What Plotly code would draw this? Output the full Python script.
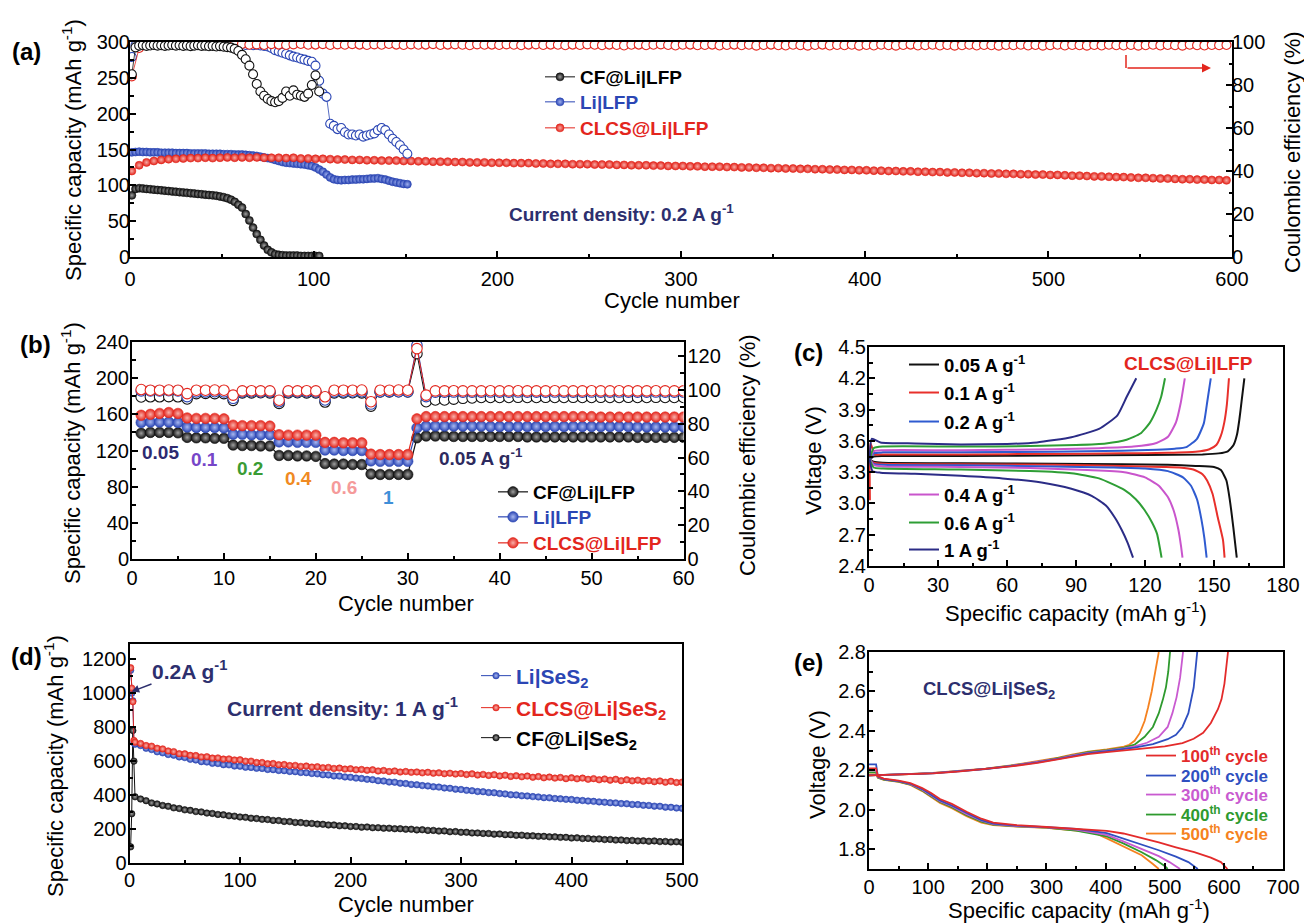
import plotly.graph_objects as go

# ---------------- DATA ----------------
# (a) long cycling, 0.2 A/g
cyc_a_red = list(range(1, 600, 4))
cyc_a_blue = list(range(1, 152, 2))
cyc_a_black = list(range(1, 104, 2))

a_red_cap = [120, 128, 132, 134, 135.5, 136.5, 137, 137.5, 138, 138,
             138.5, 138, 138.5, 139, 138.5, 139, 138.5, 139, 138.5, 138.5,
             138.5, 138, 138.5, 137.5, 137.5, 137, 137, 136.5, 136, 136,
             135.5, 135.5, 135, 135, 134.5, 134.5, 134.5, 134, 134, 133.5,
             133.5, 133, 133, 133, 132.5, 132.5, 132, 132, 132, 131.5,
             131.5, 131.5, 131, 131, 131, 130.5, 130.5, 130, 130, 130,
             129.5, 129.5, 129.5, 129, 129, 129, 128.5, 128.5, 128, 128,
             128, 127.5, 127.5, 127, 127, 127, 126.5, 126.5, 126, 126,
             126, 125.5, 125.5, 125, 125, 124.5, 124.5, 124, 124, 123.5,
             123.5, 123, 123, 122.5, 122.5, 122, 122, 121.5, 121.5, 121,
             121, 120.5, 120.5, 120, 120, 119.5, 119.5, 119, 119, 118.5,
             118.5, 118, 118, 117.5, 117.5, 117, 117, 116.5, 116.5, 116,
             116, 115.5, 115.5, 115, 115, 114.5, 114.5, 114, 113.5, 113.5,
             113, 112.5, 112.5, 112, 111.5, 111.5, 111, 110.5, 110.5, 110,
             109.5, 109.5, 109, 108.5, 108.5, 108, 108, 107.5, 107.5, 107]
a_red_ce = [84.0, 97.2, 98.6, 98.9, 98.7, 99.0, 98.8, 98.6, 99.1, 98.9,
            98.7, 98.9, 99.0, 98.6, 98.8, 99.1, 98.7, 98.9, 98.6, 99.0,
            98.8, 98.6, 98.9, 99.1, 98.7, 98.8, 99.0, 98.6, 98.9, 98.7,
            99.0, 98.8, 98.6, 98.9, 98.7, 99.1, 98.8, 98.6, 98.9, 98.7,
            98.8, 99.0, 98.6, 98.8, 98.9, 98.7, 98.5, 98.9, 98.7, 98.8,
            98.6, 98.9, 98.7, 98.5, 98.8, 98.9, 98.6, 98.8, 98.7, 98.5,
            98.8, 98.6, 98.9, 98.7, 98.5, 98.8, 98.6, 98.4, 98.7, 98.8,
            98.5, 98.7, 98.9, 98.6, 98.4, 98.7, 98.8, 98.5, 98.6, 98.8,
            98.4, 98.6, 98.8, 98.5, 98.7, 98.3, 98.6, 98.8, 98.5, 98.4,
            98.7, 98.5, 98.3, 98.6, 98.8, 98.4, 98.6, 98.5, 98.7, 98.3,
            98.6, 98.4, 98.7, 98.5, 98.3, 98.6, 98.8, 98.4, 98.5, 98.7,
            98.4, 98.6, 98.3, 98.5, 98.7, 98.4, 98.6, 98.5, 98.3, 98.6,
            98.5, 98.7, 98.4, 98.6, 98.3, 98.5, 98.7, 98.4, 98.6, 98.5,
            98.3, 98.6, 98.4, 98.7, 98.5, 98.4, 98.6, 98.3, 98.5, 98.7,
            98.4, 98.6, 98.5, 98.3, 98.7, 98.5, 98.4, 98.6, 98.5, 98.6]
a_blue_cap = [146, 146.5, 147, 146.5, 146.5, 146, 146, 146, 145.5, 145.5,
              145.5, 145.5, 145, 145, 145, 145, 144.5, 144.5, 144.5, 144.5,
              144.5, 144, 144, 144, 144, 143.5, 143.5, 143.5, 143, 143,
              143, 142.5, 142, 141.5, 141, 140, 139, 138, 137, 135.5,
              134, 132.5, 131.5, 131, 130.5, 130, 129.5, 129, 128, 127,
              125, 122, 119, 115, 111, 108.5, 107.5, 107, 107.5, 107.5,
              108, 108, 108.5, 108.5, 109, 109.5, 109.5, 110, 109, 108,
              106.5, 105, 104, 103, 102, 101.5]
a_blue_ce = [93.0, 98.5, 99.0, 99.1, 98.9, 99.2, 99.0, 98.8, 99.1, 99.0,
             98.9, 99.1, 99.0, 98.8, 99.2, 99.0, 98.9, 99.1, 98.8, 99.0,
             99.1, 98.9, 99.0, 98.8, 99.0, 99.1, 98.9, 98.8, 99.0, 98.7,
             98.9, 98.6, 98.8, 98.5, 98.7, 98.4, 98.2, 97.9, 97.2, 96.2,
             95.6, 95.0, 94.4, 93.8, 93.2, 92.8, 92.2, 91.8, 91.2, 90.8,
             89.0, 82.0, 76.0, 74.5, 62.0, 61.0, 59.5, 60.0, 58.0, 57.0,
             57.0, 56.5, 57.0, 56.0, 56.5, 57.0, 57.5, 59.0, 60.0, 59.0,
             57.0, 55.0, 53.5, 52.0, 50.0, 48.0]
a_black_cap = [86, 95, 96, 95.5, 95, 94.5, 94, 93.5, 93, 92.5,
               92, 91.5, 91, 90.5, 90, 89.5, 89, 88.5, 88, 87.5,
               87, 86.5, 86, 85.5, 84.5, 83.5, 82, 80, 77, 73,
               69, 60, 51, 41, 32, 24, 16, 10, 6.5, 4,
               3, 2.5, 2, 2, 2, 2, 1.5, 1.5, 1.5, 1.5,
               1.5, 1.5]
a_black_ce = [85.0, 97.5, 98.3, 98.5, 98.2, 98.4, 98.6, 98.3, 98.5, 98.2,
              98.4, 98.6, 98.3, 98.5, 98.2, 98.4, 98.1, 98.3, 98.5, 98.2,
              98.3, 98.0, 98.2, 97.9, 98.1, 97.8, 97.6, 97.4, 96.8, 95.8,
              94.0, 92.0, 89.0, 85.0, 80.5, 77.0, 75.0, 73.5, 72.5, 72.0,
              72.5, 74.0, 77.0, 75.0, 77.5, 75.5, 75.0, 74.5, 76.0, 80.0,
              84.5, 77.0]

# (b) rate performance
cyc_b = list(range(1, 61))
b_black_cap = [139, 140, 140, 140, 139.5, 134.5, 134, 134, 133.5, 133.5,
               126, 125.5, 125.5, 125, 125, 114.5, 114.5, 114, 114, 113.5,
               105.5, 105, 105, 104.5, 104.5, 94, 93.5, 93.5, 93.5, 93.5,
               134, 136, 136, 136, 135.5, 135.5, 135.5, 135.5, 135.5, 135.5,
               135.5, 135.5, 135, 135, 135, 135, 135, 135, 135, 135,
               135, 135, 135, 135, 134.5, 134.5, 134.5, 134.5, 134.5, 134.5]
b_blue_cap = [151, 151.5, 151.5, 151.5, 151, 146, 145.5, 145.5, 145.5, 145,
              138, 138, 137.5, 137.5, 137.5, 129.5, 129.5, 129, 129, 129,
              120.5, 120.5, 120, 120, 120, 108.5, 108, 108, 108, 108,
              145, 147, 147, 147, 147, 147, 147, 147, 146.5, 146.5,
              146.5, 146.5, 146.5, 146.5, 146.5, 146.5, 146.5, 146.5, 146.5, 146.5,
              146.5, 146.5, 146.5, 146.5, 146, 146, 146, 146, 146, 146]
b_red_cap = [159, 160, 161, 162, 161, 156, 155.5, 155.5, 155.5, 155,
             148, 147.5, 147.5, 147.5, 147, 137.5, 137, 137, 137, 137,
             129, 129, 128.5, 128.5, 128.5, 116, 115.5, 115.5, 115.5, 115.5,
             155, 157.5, 157.5, 157.5, 157.5, 157.5, 157.5, 157.5, 157.5, 157.5,
             157.5, 157.5, 157.5, 157.5, 157.5, 157.5, 157.5, 157.5, 157.5, 157.5,
             157, 157, 157, 157, 157, 157, 157, 157, 157, 157]
b_black_ce = [95.8, 95.9, 95.9, 96.0, 95.9, 94.6, 97.8, 97.9, 97.8, 97.8,
              93.8, 98.2, 98.2, 98.3, 98.2, 92.0, 98.2, 98.3, 98.2, 98.2,
              92.8, 98.2, 98.2, 98.3, 98.2, 90.4, 98.8, 98.8, 98.9, 98.8,
              121.4, 93.0, 94.0, 94.0, 94.5, 95.0, 95.2, 95.5, 95.5, 95.5,
              95.5, 95.6, 95.5, 95.5, 95.6, 95.5, 95.5, 95.6, 95.5, 95.5,
              95.6, 95.5, 95.5, 95.6, 95.5, 95.5, 95.6, 95.5, 95.5, 95.5]
b_blue_ce = [99.4, 99.4, 99.4, 99.5, 99.4, 96.0, 98.8, 98.8, 98.9, 98.8,
             95.0, 98.8, 98.9, 98.8, 98.8, 93.0, 98.8, 98.8, 98.9, 98.8,
             94.0, 98.8, 98.8, 98.8, 98.9, 91.6, 98.9, 99.0, 98.9, 98.9,
             126.3, 96.0, 98.6, 98.6, 98.7, 98.6, 98.6, 98.6, 98.7, 98.6,
             98.6, 98.7, 98.6, 98.6, 98.6, 98.7, 98.6, 98.6, 98.6, 98.7,
             98.6, 98.6, 98.7, 98.6, 98.6, 98.6, 98.7, 98.6, 98.6, 98.6]
b_red_ce = [100.2, 99.8, 99.8, 99.9, 99.8, 97.8, 99.8, 99.8, 99.9, 99.8,
            96.9, 99.4, 99.5, 99.4, 99.4, 93.9, 99.4, 99.4, 99.5, 99.4,
            95.9, 99.8, 99.8, 99.8, 99.9, 93.0, 99.8, 99.8, 99.9, 99.8,
            124.4, 96.9, 99.4, 99.4, 99.5, 99.4, 99.4, 99.4, 99.5, 99.4,
            99.4, 99.5, 99.4, 99.4, 99.4, 99.5, 99.4, 99.4, 99.4, 99.5,
            99.4, 99.4, 99.5, 99.4, 99.4, 99.4, 99.5, 99.4, 99.4, 99.4]
b_rate_labels = ["0.05", "0.1", "0.2", "0.4", "0.6", "1"]

# (c) voltage profiles, CLCS@Li|LFP
c_rates = ["0.05 A g<sup>-1</sup>", "0.1 A g<sup>-1</sup>", "0.2 A g<sup>-1</sup>",
           "0.4 A g<sup>-1</sup>", "0.6 A g<sup>-1</sup>", "1 A g<sup>-1</sup>"]
c005_ch_x = [0.3, 2, 6, 40, 80, 120, 145, 152, 156, 158.5, 160, 161, 162, 163.2]
c005_ch_y = [3.42, 3.45, 3.455, 3.455, 3.46, 3.465, 3.47, 3.48, 3.5, 3.56, 3.66, 3.8, 3.98, 4.2]
c005_dc_x = [0.3, 2, 6, 40, 80, 110, 130, 142, 150, 153, 155.4, 156.9, 158.4, 159.9]
c005_dc_y = [3.42, 3.40, 3.39, 3.385, 3.38, 3.375, 3.37, 3.36, 3.35, 3.32, 3.22, 3.03, 2.77, 2.48]
c01_ch_x = [0.4, 0.6, 2.5, 6, 40, 80, 110, 130, 142, 148, 151, 153, 154.5, 155.6, 156.5]
c01_ch_y = [3.03, 3.58, 3.47, 3.47, 3.47, 3.475, 3.48, 3.485, 3.495, 3.52, 3.56, 3.65, 3.78, 3.95, 4.2]
c01_dc_x = [0.3, 2, 6, 40, 80, 110, 128, 135, 141, 145, 147, 149.4, 151.6, 153.9, 154.6]
c01_dc_y = [3.42, 3.39, 3.38, 3.375, 3.37, 3.36, 3.35, 3.345, 3.325, 3.28, 3.22, 3.09, 2.87, 2.65, 2.48]
c02_ch_x = [0.3, 2, 6, 40, 80, 110, 125, 133, 138, 142.6, 145.6, 147.1, 148.6]
c02_ch_y = [3.42, 3.48, 3.49, 3.49, 3.495, 3.505, 3.515, 3.525, 3.54, 3.62, 3.77, 3.98, 4.2]
c02_dc_x = [0.3, 2, 6, 40, 80, 105, 120, 130, 136.5, 140, 142.6, 144.5, 145.8, 146.8]
c02_dc_y = [3.42, 3.38, 3.37, 3.365, 3.355, 3.345, 3.335, 3.31, 3.25, 3.17, 3.04, 2.85, 2.67, 2.48]
c04_ch_x = [0.3, 2, 6, 40, 80, 100, 115, 125, 130, 133.5, 135.5, 137.3]
c04_ch_y = [3.42, 3.5, 3.51, 3.51, 3.52, 3.53, 3.545, 3.58, 3.64, 3.78, 3.96, 4.2]
c04_dc_x = [0.3, 2, 6, 40, 70, 95, 111, 120, 126, 130, 132.5, 134.5, 135.6, 136.3]
c04_dc_y = [3.42, 3.37, 3.355, 3.35, 3.34, 3.32, 3.30, 3.25, 3.17, 3.06, 2.93, 2.75, 2.6, 2.48]
c06_ch_x = [0.3, 2, 6, 40, 70, 90, 103, 112, 118, 122, 125, 127, 128.7]
c06_ch_y = [3.42, 3.53, 3.545, 3.545, 3.55, 3.56, 3.575, 3.61, 3.67, 3.77, 3.9, 4.02, 4.2]
c06_dc_x = [0.3, 2, 6, 40, 70, 88, 100, 111, 116, 120, 123, 125.2, 127.2]
c06_dc_y = [3.42, 3.345, 3.335, 3.325, 3.31, 3.29, 3.24, 3.13, 3.04, 2.93, 2.82, 2.71, 2.48]
c1_ch_x = [0.3, 1.2, 5, 20, 40, 60, 73, 88, 100, 108, 112, 116.2]
c1_ch_y = [3.42, 3.62, 3.585, 3.575, 3.565, 3.57, 3.585, 3.635, 3.715, 3.845, 4.02, 4.2]
c1_dc_x = [0.3, 1.5, 5, 20, 40, 58, 75, 88, 97, 103, 107, 110, 112.5, 114.8]
c1_dc_y = [3.42, 3.31, 3.295, 3.285, 3.265, 3.24, 3.2, 3.14, 3.07, 2.98, 2.86, 2.74, 2.62, 2.48]

# (d) Li|SeS2 cycling at 1 A/g
cyc_d = [1, 2, 3, 4] + list(range(5, 501, 5))
d_red = [1150, 1030, 950, 722,
         712, 704, 692, 688, 676, 672, 660, 656, 644, 643,
         634, 633, 625, 626, 618, 619, 612, 613, 607, 608,
         600, 600, 592, 592, 585, 586, 579, 580, 574, 575,
         569, 571, 565, 567, 561, 563, 557, 559, 553, 555,
         549, 551, 546, 549, 542, 545, 539, 542, 536, 539,
         534, 536, 531, 534, 529, 531, 526, 529, 524, 527,
         521, 525, 518, 522, 516, 520, 513, 517, 510, 514,
         508, 512, 505, 509, 502, 506, 500, 504, 497, 502,
         496, 500, 493, 497, 490, 495, 488, 493, 485, 490,
         484, 488, 481, 485, 479, 483, 476, 481, 474, 476]
d_blue = [1135, 1000, 955, 708,
          700, 692, 676, 668, 655, 649, 639, 635, 625, 621,
          611, 607, 597, 595, 587, 586, 579, 578, 571, 570,
          564, 563, 558, 557, 551, 550, 545, 544, 539, 538,
          533, 532, 527, 525, 520, 519, 513, 512, 507, 505,
          500, 498, 493, 491, 485, 483, 477, 476, 470, 468,
          463, 461, 456, 454, 449, 447, 442, 440, 435, 433,
          428, 426, 421, 420, 415, 414, 409, 407, 402, 401,
          396, 395, 391, 389, 385, 384, 380, 378, 375, 374,
          370, 368, 365, 363, 360, 358, 355, 354, 350, 349,
          345, 344, 340, 339, 335, 334, 329, 328, 324, 322]
d_black = [95, 290, 780, 600,
           390, 377, 367, 354, 348, 339, 334, 325, 321, 313,
           310, 303, 301, 294, 292, 286, 284, 278, 276, 271,
           269, 264, 262, 257, 256, 251, 250, 245, 244, 239,
           238, 234, 233, 229, 228, 224, 224, 219, 219, 215,
           215, 211, 212, 208, 208, 205, 205, 202, 202, 199,
           199, 195, 196, 192, 192, 188, 189, 184, 185, 181,
           181, 177, 177, 174, 174, 170, 171, 167, 167, 163,
           164, 160, 160, 157, 157, 154, 154, 151, 151, 147,
           148, 144, 145, 141, 142, 138, 139, 135, 136, 132,
           133, 130, 131, 128, 130, 126, 127, 124, 125, 122]

# (e) voltage profiles, CLCS@Li|SeS2
e_labels = ["100<sup>th</sup> cycle", "200<sup>th</sup> cycle", "300<sup>th</sup> cycle",
            "400<sup>th</sup> cycle", "500<sup>th</sup> cycle"]
e100_dc_x = [0, 12, 15, 25, 50, 70, 90, 105, 120, 140, 165, 190, 210, 250, 300, 350, 402, 430, 461, 490, 519, 550, 578, 595, 606]
e100_dc_y = [2.21, 2.21, 2.17, 2.158, 2.148, 2.135, 2.11, 2.085, 2.055, 2.03, 1.99, 1.955, 1.935, 1.922, 1.913, 1.905, 1.893, 1.88, 1.857, 1.835, 1.81, 1.785, 1.758, 1.735, 1.70]
e200_dc_x = [0, 12, 15, 25, 50, 70, 90, 105, 120, 140, 165, 190, 210, 250, 300, 350, 402, 430, 461, 490, 519, 540, 556]
e200_dc_y = [2.23, 2.23, 2.168, 2.156, 2.146, 2.132, 2.105, 2.078, 2.048, 2.022, 1.983, 1.948, 1.93, 1.92, 1.912, 1.903, 1.882, 1.855, 1.822, 1.795, 1.763, 1.735, 1.70]
e300_dc_x = [0, 12, 15, 25, 50, 70, 90, 105, 120, 140, 165, 190, 210, 250, 300, 350, 402, 430, 461, 490, 508, 526]
e300_dc_y = [2.20, 2.20, 2.166, 2.155, 2.145, 2.13, 2.102, 2.074, 2.044, 2.018, 1.978, 1.945, 1.928, 1.918, 1.911, 1.9, 1.873, 1.84, 1.80, 1.765, 1.735, 1.70]
e400_dc_x = [0, 12, 15, 25, 50, 70, 90, 105, 120, 140, 165, 190, 210, 250, 300, 350, 402, 430, 461, 485, 500, 505]
e400_dc_y = [2.19, 2.19, 2.164, 2.153, 2.143, 2.128, 2.098, 2.07, 2.04, 2.013, 1.973, 1.94, 1.925, 1.916, 1.91, 1.895, 1.865, 1.83, 1.785, 1.745, 1.715, 1.70]
e500_dc_x = [0, 12, 15, 25, 50, 70, 90, 105, 120, 140, 165, 190, 210, 250, 300, 350, 380, 402, 430, 461, 480, 490]
e500_dc_y = [2.18, 2.18, 2.162, 2.152, 2.142, 2.126, 2.095, 2.066, 2.035, 2.008, 1.968, 1.935, 1.922, 1.915, 1.908, 1.895, 1.885, 1.855, 1.815, 1.77, 1.725, 1.70]
e100_ch_x = [0, 30, 60, 108, 150, 197, 240, 285, 320, 343, 370, 402, 449, 500, 530, 549, 565, 578, 590, 596, 601, 604, 607]
e100_ch_y = [2.175, 2.177, 2.18, 2.185, 2.194, 2.206, 2.22, 2.238, 2.255, 2.268, 2.282, 2.292, 2.305, 2.322, 2.338, 2.36, 2.39, 2.44, 2.51, 2.56, 2.64, 2.71, 2.8]
e200_ch_x = [0, 30, 60, 108, 150, 197, 240, 285, 320, 343, 370, 402, 431, 449, 480, 505, 519, 530, 540, 549, 555]
e200_ch_y = [2.175, 2.177, 2.18, 2.185, 2.195, 2.207, 2.222, 2.24, 2.258, 2.272, 2.286, 2.297, 2.307, 2.315, 2.333, 2.358, 2.38, 2.42, 2.49, 2.62, 2.8]
e300_ch_x = [0, 30, 60, 108, 150, 197, 240, 285, 320, 343, 370, 402, 431, 449, 470, 490, 505, 513, 520, 526, 531]
e300_ch_y = [2.175, 2.177, 2.18, 2.186, 2.196, 2.208, 2.223, 2.242, 2.26, 2.275, 2.289, 2.3, 2.311, 2.322, 2.34, 2.37, 2.42, 2.49, 2.57, 2.67, 2.8]
e400_ch_x = [0, 30, 60, 108, 150, 197, 240, 285, 320, 343, 370, 402, 431, 449, 466, 480, 490, 497, 502, 506, 509]
e400_ch_y = [2.175, 2.177, 2.18, 2.186, 2.196, 2.208, 2.224, 2.243, 2.262, 2.277, 2.292, 2.303, 2.315, 2.33, 2.37, 2.42, 2.49, 2.56, 2.62, 2.7, 2.8]
e500_ch_x = [0, 30, 60, 108, 150, 197, 240, 285, 320, 343, 370, 402, 431, 440, 449, 458, 466, 472, 478, 484, 490]
e500_ch_y = [2.175, 2.177, 2.18, 2.187, 2.197, 2.209, 2.225, 2.245, 2.264, 2.28, 2.295, 2.306, 2.32, 2.33, 2.35, 2.39, 2.45, 2.52, 2.6, 2.7, 2.8]

assert len(cyc_a_red) == len(a_red_cap) == len(a_red_ce)
assert len(cyc_a_blue) == len(a_blue_cap) == len(a_blue_ce)
assert len(cyc_a_black) == len(a_black_cap) == len(a_black_ce)
assert len(cyc_b) == len(b_black_cap) == len(b_blue_cap) == len(b_red_cap) == len(b_black_ce) == len(b_blue_ce) == len(b_red_ce)
assert len(cyc_d) == len(d_red) == len(d_blue) == len(d_black)

# ---------------- STYLE ----------------
W, H = 1304, 923
FONT = "Arial, 'Liberation Sans', Helvetica, sans-serif"
NAVY = "#2d2f6e"
RED = "#e3261d"
BLUE = "#2b46b4"
BLACK = "#111111"


def fx(p):
    return p / W


def fy(p):
    return 1 - p / H


def ball(color, center, size):
    return dict(symbol="circle", size=size, color=color,
                gradient=dict(type="radial", color=center),
                line=dict(width=0.6, color=color))


def hollow(color, size):
    return dict(symbol="circle", size=size, color="white", line=dict(width=1.1, color=color))


fig = go.Figure()
legends = {}
leg_count = [0]


def new_legend(text_x, yc, fs, color):
    leg_count[0] += 1
    key = "legend" if leg_count[0] == 1 else "legend%d" % leg_count[0]
    legends[key] = dict(x=fx(text_x - 42), y=fy(yc), xanchor="left", yanchor="middle",
                        bgcolor="rgba(0,0,0,0)", borderwidth=0, itemwidth=30,
                        font=dict(family=FONT, size=fs, color=color))
    return key


# ---- (a) ----
a_series = [
    (cyc_a_black, a_black_cap, a_black_ce, BLACK, "#a0a0a0", "CF@Li|LFP", 77, "#000000"),
    (cyc_a_blue, a_blue_cap, a_blue_ce, BLUE, "#9fb0ee", "Li|LFP", 102, BLUE),
    (cyc_a_red, a_red_cap, a_red_ce, RED, "#f7aaa4", "CLCS@Li|LFP", 128, RED),
]
for cx, cap, ce, col, cen, nm, ly, tc in a_series:
    lg = new_legend(582, ly, 19, tc)
    fig.add_trace(go.Scatter(x=cx, y=cap, mode="lines+markers", name="<b>%s</b>" % nm,
                             line=dict(color=col, width=1), marker=ball(col, cen, 8),
                             xaxis="x", yaxis="y", legend=lg, showlegend=True))
# CE: blue under red, black on top
for idx in (1, 2, 0):
    cx, cap, ce, col, cen, nm, ly, tc = a_series[idx]
    fig.add_trace(go.Scatter(x=cx, y=ce, mode="lines+markers", line=dict(color=col, width=0.8),
                             marker=hollow(col, 9), xaxis="x", yaxis="y2", showlegend=False))

# ---- (b) ----
b_series = [
    (b_black_cap, b_black_ce, BLACK, "#a0a0a0", "CF@Li|LFP", 492, "#000000"),
    (b_blue_cap, b_blue_ce, BLUE, "#a9b8f0", "Li|LFP", 517, BLUE),
    (b_red_cap, b_red_ce, RED, "#f8b0aa", "CLCS@Li|LFP", 543, RED),
]
for cap, ce, col, cen, nm, ly, tc in b_series:
    lg = new_legend(535, ly, 19, tc)
    fig.add_trace(go.Scatter(x=cyc_b, y=cap, mode="lines+markers", name="<b>%s</b>" % nm,
                             line=dict(color=col, width=1.2), marker=ball(col, cen, 10.5),
                             xaxis="x2", yaxis="y3", legend=lg, showlegend=True))
for cap, ce, col, cen, nm, ly, tc in b_series:
    fig.add_trace(go.Scatter(x=cyc_b, y=ce, mode="lines+markers", line=dict(color=col, width=1),
                             marker=hollow(col, 10.5), xaxis="x2", yaxis="y4", showlegend=False))

# ---- (c) ----
c_curves = [
    (c005_ch_x, c005_ch_y, c005_dc_x, c005_dc_y, "#111111", 365),
    (c01_ch_x, c01_ch_y, c01_dc_x, c01_dc_y, "#e8302b", 393),
    (c02_ch_x, c02_ch_y, c02_dc_x, c02_dc_y, "#2f5bd0", 422),
    (c04_ch_x, c04_ch_y, c04_dc_x, c04_dc_y, "#c955cc", 495),
    (c06_ch_x, c06_ch_y, c06_dc_x, c06_dc_y, "#2e9e35", 523),
    (c1_ch_x, c1_ch_y, c1_dc_x, c1_dc_y, "#2b2c86", 550),
]
for (chx, chy, dcx, dcy, col, ly), lab in zip(c_curves, c_rates):
    lg = new_legend(946, ly, 18.5, "#000000")
    fig.add_trace(go.Scatter(x=chx, y=chy, mode="lines", name="<b>%s</b>" % lab,
                             line=dict(color=col, width=2, shape="spline", smoothing=0.5),
                             xaxis="x3", yaxis="y5", legend=lg, showlegend=True))
    fig.add_trace(go.Scatter(x=dcx, y=dcy, mode="lines",
                             line=dict(color=col, width=2, shape="spline", smoothing=0.5),
                             xaxis="x3", yaxis="y5", showlegend=False))

# ---- (d) ----
d_series = [
    (d_black, BLACK, "#a0a0a0", "CF@Li|SeS<sub>2</sub>", 738, "#000000"),
    (d_blue, BLUE, "#a9b8f0", "Li|SeS<sub>2</sub>", 676, BLUE),
    (d_red, RED, "#f8b0aa", "CLCS@Li|SeS<sub>2</sub>", 708, RED),
]
for vals, col, cen, nm, ly, tc in d_series:
    lg = new_legend(518, ly, 21, tc)
    fig.add_trace(go.Scatter(x=cyc_d, y=vals, mode="lines+markers", name="<b>%s</b>" % nm,
                             line=dict(color=col, width=1), marker=ball(col, cen, 6.5),
                             xaxis="x4", yaxis="y6", legend=lg, showlegend=True))

# ---- (e) ----
e_curves = [
    (e100_dc_x, e100_dc_y, e100_ch_x, e100_ch_y, "#e32b2b", 756),
    (e200_dc_x, e200_dc_y, e200_ch_x, e200_ch_y, "#2f4fc0", 776),
    (e300_dc_x, e300_dc_y, e300_ch_x, e300_ch_y, "#c95ad0", 795),
    (e400_dc_x, e400_dc_y, e400_ch_x, e400_ch_y, "#2e9a2e", 815),
    (e500_dc_x, e500_dc_y, e500_ch_x, e500_ch_y, "#f58220", 834),
]
for (dx, dy, chx, chy, col, ly), lab in zip(e_curves[::-1], e_labels[::-1]):
    lg = new_legend(1183, ly, 17, col)
    fig.add_trace(go.Scatter(x=dx, y=dy, mode="lines", name="<b>%s</b>" % lab,
                             line=dict(color=col, width=1.8),
                             xaxis="x5", yaxis="y7", legend=lg, showlegend=True))
    fig.add_trace(go.Scatter(x=chx, y=chy, mode="lines", line=dict(color=col, width=1.8),
                             xaxis="x5", yaxis="y7", showlegend=False))


# ---------------- AXES ----------------
def axis(dom, rng, dtick, mdtick, anchor, tick0=None, fmt=None, mirror=True, side=None,
         overlay=None, standoff=0):
    d = dict(domain=dom, range=rng, dtick=dtick, showline=True, linecolor="black", linewidth=2,
             mirror=mirror, ticks="inside", ticklen=6, tickwidth=1.5, tickcolor="black",
             showgrid=False, zeroline=False, anchor=anchor, fixedrange=True, automargin=False,
             ticklabelstandoff=standoff,
             tickfont=dict(family=FONT, size=20, color="black"),
             minor=dict(ticks="inside", ticklen=3.5, tickwidth=1.5, tickcolor="black",
                        dtick=mdtick, showgrid=False))
    if tick0 is not None:
        d["tick0"] = tick0
        d["minor"]["tick0"] = tick0
    if fmt:
        d["tickformat"] = fmt
    if side:
        d["side"] = side
    if overlay:
        d["overlaying"] = overlay
        d.pop("domain")
    return d


xa = [fx(130), fx(1232)]
ya = [fy(257), fy(42)]
xb = [fx(132), fx(683.5)]
yb = [fy(559), fy(342)]
xc = [fx(869), fx(1283)]
yc = [fy(566), fy(347)]
xd = [fx(129.5), fx(682)]
yd = [fy(863), fy(644)]
xe = [fx(869), fx(1283)]
ye = [fy(869), fy(652)]

layout_axes = dict(
    xaxis=axis(xa, [0, 600], 100, 50, "y", tick0=0, standoff=3),
    yaxis=axis(ya, [0, 300], 50, 25, "x", tick0=0, standoff=-6),
    yaxis2=axis(None, [0, 100], 20, 10, "x", tick0=0, mirror=False, side="right", overlay="y", standoff=-6),
    xaxis2=axis(xb, [0, 60], 10, 5, "y3", tick0=0),
    yaxis3=axis(yb, [0, 240], 40, 20, "x2", tick0=0, standoff=-3),
    yaxis4=axis(None, [0, 128.3], 20, 10, "x2", tick0=0, mirror=False, side="right", overlay="y3", standoff=-2),
    xaxis3=axis(xc, [0, 180], 30, 15, "y5", tick0=0),
    yaxis5=axis(yc, [2.4, 4.5], 0.3, 0.15, "x3", tick0=2.4, fmt=".1f", standoff=-3),
    xaxis4=axis(xd, [0, 500], 100, 50, "y6", tick0=0, standoff=-2),
    yaxis6=axis(yd, [0, 1290], 200, 100, "x4", tick0=0, standoff=-3),
    xaxis5=axis(xe, [0, 700], 100, 50, "y7", tick0=0, standoff=-1),
    yaxis7=axis(ye, [1.7, 2.8], 0.2, 0.1, "x5", tick0=1.8, fmt=".1f", standoff=-3),
)

# ---------------- TEXT ----------------
ann = []


def text(x, y, s, size, color="black", angle=0, xanchor="center", bold=False):
    ann.append(dict(x=fx(x), y=fy(y), xref="paper", yref="paper", text=("<b>%s</b>" % s) if bold else s,
                    showarrow=False, textangle=angle, xanchor=xanchor, yanchor="middle",
                    font=dict(family=FONT, size=size, color=color)))


TS = 22
cap_title = "Specific capacity (mAh g<sup>-1</sup>)"
# panel letters
text(27, 51, "(a)", 24, bold=True)
text(35, 344, "(b)", 24, bold=True)
text(808, 352, "(c)", 24, bold=True)
text(27, 656, "(d)", 24, bold=True)
text(808, 662, "(e)", 24, bold=True)
# (a)
text(72, 150, cap_title, TS, angle=-90)
text(1293, 152, "Coulombic efficiency (%)", TS, angle=-90)
text(672, 300, "Cycle number", TS)
text(621, 213, "Current density: 0.2 A g<sup>-1</sup>", 19, NAVY, bold=True)
# (b)
text(71, 453, cap_title, TS, angle=-90)
text(747, 455, "Coulombic efficiency (%)", TS, angle=-90)
text(406, 603, "Cycle number", TS)
b_lab_pos = [(160, 452, "#2d2a70"), (204, 459, "#7646c8"), (250, 468, "#3a9c34"),
             (298, 479, "#f08a22"), (344, 487, "#f59a9a"), (388, 497, "#3f8fd8")]
for lab, (lx, lyy, lc) in zip(b_rate_labels, b_lab_pos):
    text(lx, lyy, lab, 19, lc, bold=True)
text(481, 457, "0.05 A g<sup>-1</sup>", 19, "#2d2a5e", bold=True)
# (c)
text(814, 460, "Voltage (V)", TS, angle=-90)
text(1076, 612, cap_title, TS)
text(1188, 364, "CLCS@Li|LFP", 19, RED, bold=True)
# (d)
text(54, 766, cap_title, TS, angle=-90)
text(406, 904, "Cycle number", TS)
text(342, 707, "Current density: 1 A g<sup>-1</sup>", 21, NAVY, bold=True)
ann.append(dict(x=2, y=1010, xref="x4", yref="y6", text="<b>0.2A g<sup>-1</sup></b>",
                showarrow=True, ax=58, ay=-22, arrowhead=2, arrowsize=1, arrowwidth=1.5,
                arrowcolor=NAVY, font=dict(family=FONT, size=21, color=NAVY)))
# (e)
text(817, 765, "Voltage (V)", TS, angle=-90)
text(1079, 909, cap_title, TS)
text(989, 690, "CLCS@Li|SeS<sub>2</sub>", 18.5, NAVY, bold=True)

# red arrow in (a) pointing to the right axis
ann.append(dict(x=fx(1211), y=fy(68), xref="paper", yref="paper", text="", showarrow=True,
                ax=-85, ay=0, arrowhead=2, arrowsize=1.2, arrowwidth=1.5, arrowcolor=RED))
shapes = [dict(type="line", xref="paper", yref="paper", x0=fx(1126), x1=fx(1126),
               y0=fy(55), y1=fy(68), line=dict(color=RED, width=1.5))]

fig.update_layout(width=W, height=H, margin=dict(l=0, r=0, t=0, b=0, autoexpand=False),
                  paper_bgcolor="white", plot_bgcolor="white",
                  font=dict(family=FONT, color="black"),
                  annotations=ann, shapes=shapes, **layout_axes, **legends)

fig.write_html("out.html", config={"displayModeBar": False},
               post_script="document.body.style.margin='0px';document.body.style.padding='0px';"
                           "document.body.style.overflow='hidden';")
